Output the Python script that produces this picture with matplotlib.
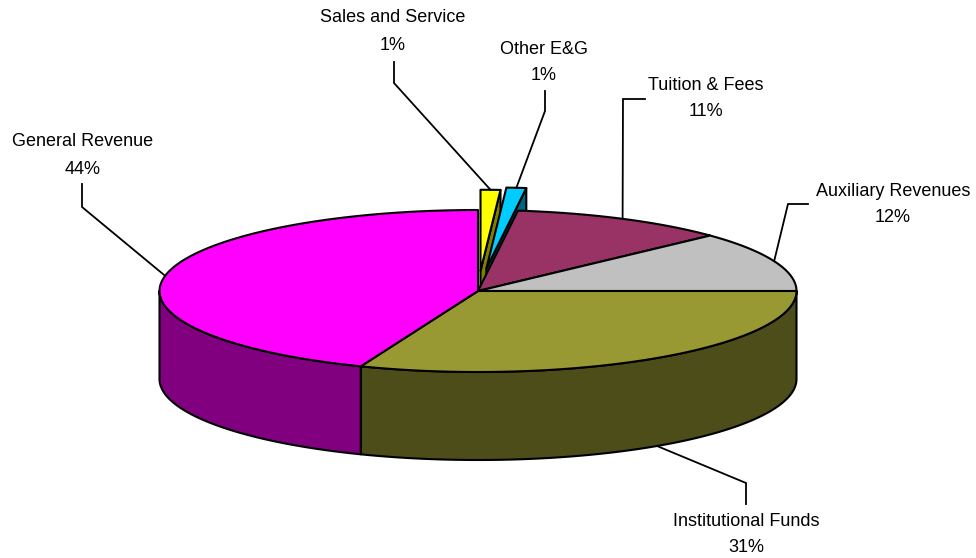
import numpy as np
import matplotlib
matplotlib.use("Agg")
import matplotlib.pyplot as plt
from matplotlib.patches import Polygon
from matplotlib.colors import to_rgb

labels = ["Sales and Service", "Other E&G", "Tuition & Fees",
          "Auxiliary Revenues", "Institutional Funds", "General Revenue"]
shares = [1, 1, 11, 12, 31, 44]
pct_text = ["1%", "1%", "11%", "12%", "31%", "44%"]
top_colors = ["#FFFF00", "#00CCFF", "#993366", "#C0C0C0", "#999933", "#FF00FF"]
explode = [0.25, 0.28, 0, 0, 0, 0]

# label centre (first line) and leader elbow, pixel coords
label_xy = [(393, 18), (544, 49), (706, 85), (893, 191), (746, 521), (83, 142)]
elbow_xy = [(394, 83), (545, 111), (623, 99), (788, 204), (746, 483), (82, 207)]
stub_xy = [(394, 62), (545, 91), (645, 99), (808, 204), (746, 504), (82, 184)]

# pie geometry in pixels
cx, cy, rx, ry, depth = 478, 291, 318.5, 81, 88

W, H = 976, 558
fig = plt.figure(figsize=(W / 100, H / 100), dpi=100)
ax = fig.add_axes([0, 0, 1, 1])
ax.set_xlim(0, W)
ax.set_ylim(H, 0)
ax.axis("off")


def arc(t0, t1, dx=0.0, dy=0.0, drop=0.0, n=120):
    t = np.radians(np.linspace(t0, t1, n))
    return np.column_stack([cx + dx + rx * np.sin(t),
                            cy + dy - ry * np.cos(t) + drop])


def shade(c):
    return tuple(v * 0.5 for v in to_rgb(c))


edge = dict(edgecolor="black", linewidth=1.5, joinstyle="round")

bounds = np.concatenate([[0], np.cumsum(shares)]) * 360.0 / sum(shares)
anchors = []

for i, (t0, t1) in enumerate(zip(bounds[:-1], bounds[1:])):
    tm = np.radians((t0 + t1) / 2)
    e = explode[i]
    dx, dy = e * rx * np.sin(tm), -e * ry * np.cos(tm)
    z = 1 if e > 0 else 5
    centre = np.array([cx + dx, cy + dy])
    side = shade(top_colors[i])

    # cut faces, only where a gap opens them up
    if e > 0:
        for t, show in ((t0, 180 < t0 < 360), (t1, 0 < t1 < 180)):
            if show:
                p = arc(t, t, dx, dy, n=1)[0]
                face = [centre, p, p + [0, depth], centre + [0, depth]]
                ax.add_patch(Polygon(face, facecolor=side, zorder=z, **edge))

    # outer wall on the front half
    a, b = max(t0, 90), min(t1, 270)
    if a < b:
        top = arc(a, b, dx, dy)
        bot = arc(a, b, dx, dy, drop=depth)[::-1]
        ax.add_patch(Polygon(np.vstack([top, bot]), facecolor=side,
                             zorder=z + 1, **edge))

    # top face
    pts = np.vstack([centre, arc(t0, t1, dx, dy)])
    ax.add_patch(Polygon(pts, facecolor=top_colors[i], zorder=z + 2, **edge))

    mid = (t0 + t1) / 2
    anchors.append(arc(mid, mid, dx, dy, drop=depth if 90 < mid < 270 else 0,
                       n=1)[0])

for i in range(len(labels)):
    x, y = label_xy[i]
    ax.text(x, y, labels[i], ha="center", va="center", fontsize=13,
            family="Liberation Sans", zorder=10)
    ax.text(x, y + 27, pct_text[i], ha="center", va="center", fontsize=13,
            family="Liberation Sans", zorder=10)
    ax_, ay_ = anchors[i]
    ex, ey = elbow_xy[i]
    sx, sy = stub_xy[i]
    ax.plot([ax_, ex, sx], [ay_, ey, sy], color="black", lw=1.3,
            solid_joinstyle="miter", zorder=9)

fig.savefig("out.png", dpi=100)
